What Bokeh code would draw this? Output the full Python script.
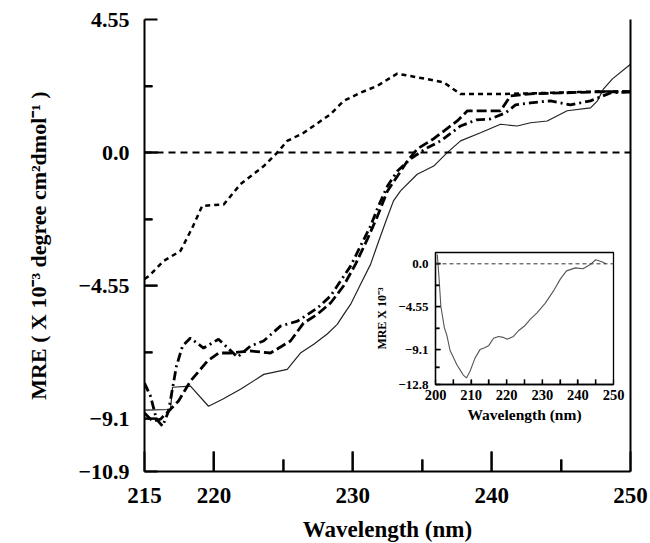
from bokeh.plotting import figure
from bokeh.models import LinearAxis, FixedTicker, Span, Range1d
from bokeh.embed import file_html
from bokeh.resources import INLINE

# ---------------- main panel data (wavelength nm, MRE x10^-3) ----------------
wl_short = [215.0, 215.31, 216.39, 217.59, 218.44, 219.16, 220.71, 221.91, 223.59, 224.56, 225.28,
            226.47, 228.39, 229.35, 230.56, 231.76, 233.20, 235.36, 236.55, 237.76, 240.64, 247.84, 250.0]
mre_short = [-4.32, -4.22, -3.70, -3.36, -2.57, -1.82, -1.77, -1.08, -0.46, 0.0, 0.40,
             0.68, 1.31, 1.77, 2.05, 2.28, 2.70, 2.51, 2.40, 2.00, 2.00, 2.09, 2.09]

wl_solid = [215.0, 216.87, 217.02, 218.31, 219.61, 220.62, 221.91, 223.59, 225.28, 226.23, 227.19,
            228.16, 228.88, 229.35, 229.84, 230.56, 231.28, 231.87, 232.48, 232.93, 233.44, 234.64,
            235.83, 236.80, 237.76, 239.20, 240.64, 241.84, 242.80, 244.0, 245.44, 247.12, 247.62,
            248.06, 248.70, 250.0]
mre_solid = [-8.80, -8.78, -8.02, -7.98, -8.67, -8.43, -8.09, -7.58, -7.41, -6.85, -6.55,
             -6.20, -5.87, -5.53, -5.19, -4.50, -3.82, -3.02, -2.22, -1.65, -1.31, -0.74,
             -0.46, 0.0, 0.40, 0.68, 0.97, 0.91, 1.02, 1.08, 1.43, 1.53, 1.77,
             2.18, 2.52, 3.02]

wl_longdash = [215.0, 215.58, 216.15, 216.73, 217.45, 218.31, 219.52, 220.33, 221.19, 222.63, 224.07,
               225.51, 226.45, 227.46, 228.40, 229.33, 230.20, 231.06, 231.78, 232.50, 233.22, 233.94,
               234.66, 235.81, 237.54, 238.26, 240.64, 241.36, 242.80, 244.96, 247.84, 250.0]
mre_longdash = [-8.90, -9.18, -9.11, -8.84, -8.49, -7.81, -7.13, -6.85, -6.85, -6.78, -6.85,
                -6.44, -5.83, -5.52, -5.14, -4.56, -3.81, -2.95, -2.17, -1.31, -0.80, -0.28,
                0.13, 0.47, 1.09, 1.43, 1.43, 1.94, 2.01, 2.04, 2.08, 2.08]

wl_dashdot = [215.0, 215.43, 215.86, 216.30, 216.73, 217.30, 217.74, 218.31, 219.25, 220.33, 221.70,
              222.63, 223.57, 224.79, 226.02, 227.46, 228.40, 229.12, 229.84, 230.56, 231.28, 231.85,
              232.50, 233.22, 234.16, 235.24, 236.32, 237.76, 238.91, 239.92, 241.00, 241.72, 242.80,
              244.24, 245.68, 247.12, 248.56, 250.0]
mre_dashdot = [-7.88, -8.32, -9.11, -9.35, -8.84, -7.30, -6.61, -6.34, -6.68, -6.38, -6.99,
               -6.61, -6.44, -5.93, -5.76, -5.31, -4.90, -4.39, -3.88, -3.19, -2.51, -1.82,
               -1.14, -0.63, -0.21, 0.13, 0.40, 0.91, 1.12, 1.15, 1.36, 1.63, 1.70,
               1.77, 1.63, 1.77, 2.04, 2.08]

x_ticks = [215, 220, 230, 240, 250]
x_minor = [225, 235, 245]
x_tick_marks = [220, 230, 240]
y_ticks = [-10.9, -9.1, -4.55, 0.0, 4.55]
y_minor = [-6.825, -2.275, 2.275]
y_tick_marks = [-9.1, -4.55, 0.0]
y_tick_labels = {-10.9: "\u221210.9", -9.1: "\u22129.1", -4.55: "\u22124.55", 0.0: "0.0", 4.55: "4.55"}

# ---------------- inset data ----------------
wl_inset = [200.5, 201.0, 201.5, 202.5, 203.2, 204.1, 205.0, 206.0, 207.0, 207.8, 208.7, 209.7,
            211.1, 212.5, 213.8, 214.9, 216.3, 217.7, 219.0, 220.1, 221.9, 223.3, 225.0, 226.6,
            228.5, 230.8, 233.1, 235.1, 236.8, 239.3, 241.4, 243.4, 245.0, 246.7, 247.9]
mre_inset = [1.0, -1.5, -4.5, -6.8, -7.6, -9.2, -9.9, -10.7, -11.3, -11.8, -12.1, -11.4,
             -10.0, -9.1, -8.9, -8.7, -7.9, -7.7, -7.8, -8.0, -7.7, -7.1, -6.6, -5.9,
             -5.2, -4.2, -2.9, -1.6, -0.75, -0.43, -0.53, -0.11, 0.43, 0.21, 0.0]
inset_x_ticks = [200, 210, 220, 230, 240, 250]
inset_x_minor = [205, 215, 225, 235, 245]
inset_x_marks = [205, 210, 215, 220, 225, 230, 235, 240, 245]
inset_y_ticks = [-12.8, -9.1, -4.55, 0.0]
inset_y_minor = [-10.95, -6.825, -2.275]
inset_y_marks = [-9.1, -4.55, 0.0]
inset_y_labels = {-12.8: "\u221212.8", -9.1: "\u22129.1", -4.55: "\u22124.55", 0.0: "0.0"}

FONT = "Liberation Serif"


def style_axis(ax, line_w, tin, tin_minor):
    ax.axis_line_width = line_w
    ax.axis_line_color = "black"
    ax.major_tick_line_width = line_w
    ax.minor_tick_line_width = line_w
    ax.major_tick_line_color = "black"
    ax.minor_tick_line_color = "black"
    ax.major_tick_in = tin
    ax.major_tick_out = 0
    ax.minor_tick_in = tin_minor
    ax.minor_tick_out = 0
    ax.major_label_text_font = FONT
    ax.major_label_text_font_style = "bold"
    ax.major_label_text_color = "black"
    ax.axis_label_text_font = FONT
    ax.axis_label_text_font_style = "bold"
    ax.axis_label_text_color = "black"


# ---------------- main figure ----------------
FW, FH = 486, 452
p = figure(frame_width=FW, frame_height=FH, x_range=Range1d(215, 250), y_range=Range1d(-10.9, 4.55),
           output_backend="svg", toolbar_location=None, title=None,
           min_border_left=144, min_border_right=20, min_border_top=19, min_border_bottom=70,
           x_axis_label="Wavelength (nm)",
           y_axis_label="MRE ( X 10\u207b\u00b3 degree cm\u00b2dmol\u207b\u00b9 )")
p.outline_line_color = None
p.xgrid.visible = False
p.ygrid.visible = False
p.background_fill_color = "white"
p.border_fill_color = "white"

p.xaxis.ticker = FixedTicker(ticks=x_ticks, minor_ticks=x_minor)
p.yaxis.ticker = FixedTicker(ticks=y_ticks, minor_ticks=y_minor)
p.yaxis.major_label_overrides = y_tick_labels
style_axis(p.xaxis[0], 2, 20, 12)
style_axis(p.yaxis[0], 2, 13, 8)

p.xaxis.major_label_text_font_size = "23px"
p.xaxis.axis_label_text_font_size = "23px"
p.xaxis.major_label_standoff = 16
p.xaxis.axis_label_standoff = 11
p.yaxis.major_label_text_font_size = "22px"
p.yaxis.axis_label_text_font_size = "22px"
p.yaxis.major_label_standoff = 15
p.yaxis.axis_label_standoff = 24

right_axis = LinearAxis(ticker=FixedTicker(ticks=[]), axis_line_width=2, axis_line_color="black",
                        major_tick_in=0, major_tick_out=0, minor_tick_in=0, minor_tick_out=0,
                        major_label_text_font_size="0px")
p.add_layout(right_axis, "right")

# inward tick marks drawn as short segments starting on the axes
xr, yr = p.x_range, p.y_range
ypp = (yr.end - yr.start) / FH
xpp = (xr.end - xr.start) / FW
p.segment(x0=x_tick_marks, y0=[yr.start] * len(x_tick_marks), x1=x_tick_marks,
          y1=[yr.start + 20 * ypp] * len(x_tick_marks),
          line_color="black", line_width=2, line_cap="butt")
p.segment(x0=x_minor, y0=[yr.start] * len(x_minor), x1=x_minor,
          y1=[yr.start + 12 * ypp] * len(x_minor),
          line_color="black", line_width=2, line_cap="butt")
p.segment(x0=[xr.start] * len(y_tick_marks), y0=y_tick_marks,
          x1=[xr.start + 13 * xpp] * len(y_tick_marks), y1=y_tick_marks,
          line_color="black", line_width=2, line_cap="butt")
p.segment(x0=[xr.start] * len(y_minor), y0=y_minor,
          x1=[xr.start + 8 * xpp] * len(y_minor), y1=y_minor,
          line_color="black", line_width=2, line_cap="butt")

p.add_layout(Span(location=0, dimension="width", line_color="black", line_width=2, line_dash="7 5"))

p.line(wl_short, mre_short, line_color="black", line_width=2.5, line_dash="5 4")
p.line(wl_solid, mre_solid, line_color="#222222", line_width=1.2)
p.line(wl_longdash, mre_longdash, line_color="black", line_width=2.8, line_dash="10 4")
p.line(wl_dashdot, mre_dashdot, line_color="black", line_width=2.8, line_dash="9 4 2 4")

# ---------------- inset figure ----------------
IFW, IFH = 178, 132
inset = figure(frame_width=IFW, frame_height=IFH, x_range=Range1d(200, 250), y_range=Range1d(-12.8, 1.2),
               output_backend="svg", toolbar_location=None, title=None,
               min_border_left=70, min_border_right=14, min_border_top=12, min_border_bottom=46,
               x_axis_label="Wavelength (nm)", y_axis_label="MRE X 10\u207b\u00b3")
inset.styles = {"position": "absolute", "left": "365px", "top": "240px"}
inset.xgrid.visible = False
inset.ygrid.visible = False
inset.background_fill_color = "white"
inset.border_fill_alpha = 0
inset.outline_line_color = "black"
inset.outline_line_width = 1.3

inset.xaxis.ticker = FixedTicker(ticks=inset_x_ticks, minor_ticks=inset_x_minor)
inset.yaxis.ticker = FixedTicker(ticks=inset_y_ticks, minor_ticks=inset_y_minor)
inset.yaxis.major_label_overrides = inset_y_labels
style_axis(inset.xaxis[0], 1.3, 5, 5)
style_axis(inset.yaxis[0], 1.3, 5, 4)

inset.xaxis.major_label_text_font_size = "14.5px"
inset.xaxis.axis_label_text_font_size = "15.5px"
inset.xaxis.major_label_standoff = 5
inset.xaxis.axis_label_standoff = 3
inset.yaxis.major_label_text_font_size = "13px"
inset.yaxis.axis_label_text_font_size = "12px"
inset.yaxis.major_label_standoff = 7
inset.yaxis.axis_label_standoff = 6

ixr, iyr = inset.x_range, inset.y_range
iypp = (iyr.end - iyr.start) / IFH
ixpp = (ixr.end - ixr.start) / IFW
inset.segment(x0=inset_x_marks, y0=[iyr.start] * len(inset_x_marks), x1=inset_x_marks,
              y1=[iyr.start + 5 * iypp] * len(inset_x_marks),
              line_color="black", line_width=1.3, line_cap="butt")
inset.segment(x0=[ixr.start] * len(inset_y_marks), y0=inset_y_marks,
              x1=[ixr.start + 5 * ixpp] * len(inset_y_marks), y1=inset_y_marks,
              line_color="black", line_width=1.3, line_cap="butt")
inset.segment(x0=[ixr.start] * len(inset_y_minor), y0=inset_y_minor,
              x1=[ixr.start + 4 * ixpp] * len(inset_y_minor), y1=inset_y_minor,
              line_color="black", line_width=1.3, line_cap="butt")

inset.add_layout(Span(location=0, dimension="width", line_color="#333333", line_width=1, line_dash="4 3"))
inset.line(wl_inset, mre_inset, line_color="#555555", line_width=1.1)

open("out.html", "w").write(file_html([p, inset], INLINE))
